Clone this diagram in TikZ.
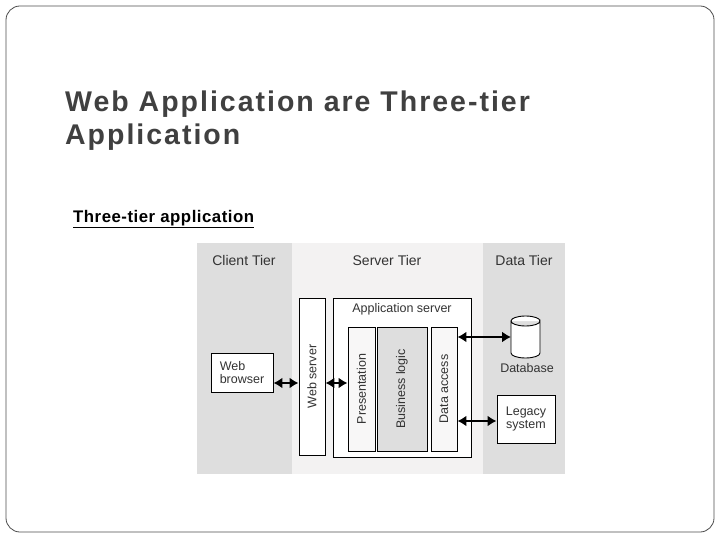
\documentclass[tikz,border=0pt]{standalone}
\usepackage{fontspec}
\setmainfont{Liberation Sans}
\usetikzlibrary{arrows.meta}
\begin{document}
\begin{tikzpicture}[x=1pt,y=-1pt,
  box/.style={draw=black,line width=0.9pt,fill=white},
  dtext/.style={font=\fontsize{12.5}{13}\selectfont,text=black!80},
  arr/.style={line width=2.2pt,{Latex[length=9pt,width=11pt]}-{Latex[length=9pt,width=11pt]}}]
\useasboundingbox (0,0) rectangle (720,540);
\draw[rounded corners=14pt,line width=0.8pt,draw=black!70] (6,6) rectangle (714,532);
\node[anchor=west,font=\addfontfeature{LetterSpace=7}\bfseries\fontsize{28.5}{33}\selectfont,text=black!75,align=left,inner sep=0] (title) at (65,121) {Web Application are Three-tier\\Application};
\node[anchor=west,font=\addfontfeature{LetterSpace=3}\bfseries\fontsize{16.8}{18}\selectfont,inner sep=1pt] (sub) at (72,219) {\underline{Three-tier application}};
% tiers
\fill[black!13] (197,243) rectangle (292,474);
\fill[red!3!black!5] (292,243) rectangle (483,474);
\fill[black!13] (483,243) rectangle (565,474);
\node[dtext,font=\fontsize{14}{15}\selectfont] (ct) at (244,260) {Client Tier};
\node[dtext,font=\fontsize{14}{15}\selectfont] (st) at (387,260) {Server Tier};
\node[dtext,font=\fontsize{14}{15}\selectfont] (dt) at (524,260) {Data Tier};
% boxes
\node[box,minimum width=62,minimum height=39,dtext,align=left] (wb) at (242,372.5) {Web\\browser};
\node[box,minimum width=26,minimum height=157,inner sep=0] (ws) at (312,376.5) {};
\node[dtext,rotate=90] (wsl) at (ws) {Web server};
\node[box,minimum width=138,minimum height=159] (as) at (402,377.5) {};
\node[dtext,anchor=north] (asl) at (402,300) {Application server};
\node[box,fill=red!3!black!3,minimum width=27,minimum height=124,inner sep=0] (pr) at (361.5,389) {};
\node[dtext,rotate=90] at (pr) {Presentation};
\node[box,fill=black!13,minimum width=50,minimum height=124,inner sep=0] (bl) at (402,389) {};
\node[dtext,rotate=90] at (bl) {Business logic};
\node[box,fill=red!3!black!3,minimum width=26,minimum height=124,inner sep=0] (da) at (444,389) {};
\node[dtext,rotate=90] at (da) {Data access};
\coordinate (db) at (511,337);
\draw[line width=0.9pt,fill=white] (511,321) -- (511,353) arc[start angle=180,end angle=360,x radius=14.5,y radius=-5] -- (540,321) arc[start angle=0,end angle=360,x radius=14.5,y radius=5];
\node[dtext] (dbl) at (527,368) {Database};
\node[box,minimum width=58,minimum height=48,dtext,align=center] (ls) at (526,419) {Legacy\\system};
% arrows
\draw[arr] (wb.east |- 0,383) -- (ws.west |- 0,383);
\draw[arr] (ws.east |- 0,383) -- (pr.west |- 0,383);
\draw[arr] (da.east |- 0,337) -- (db);
\draw[arr] (da.east |- 0,421) -- (ls.west |- 0,421);
\end{tikzpicture}
\end{document}
